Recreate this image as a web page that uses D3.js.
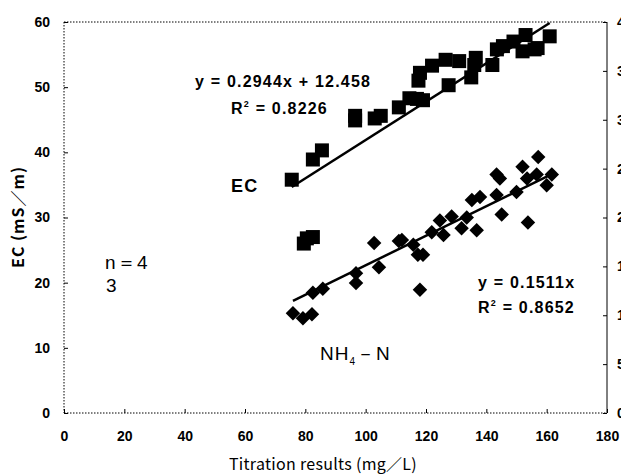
<!DOCTYPE html>
<html>
<head>
<meta charset="utf-8">
<script src="https://cdn.jsdelivr.net/npm/d3@7"></script>
<style>
	body { margin: 0; background: #fff; }
	.tick text { font-family: "Liberation Sans", Arial, sans-serif; font-weight: bold; font-size: 14px; fill: #000; }
	.lbl { font-family: "Noto Sans CJK JP", "Liberation Sans", sans-serif; fill: #000; }
</style>
</head>
<body>
<div id="chart"></div>
<script>
// EC (left axis, mS/m) vs titration result (mg/L)
let ecX = [75.5, 82.5, 85.5, 79.5, 80.5, 82.5, 96.5, 96.5, 103, 105, 111, 114.5, 117, 119, 117.5, 118,
	122, 126.5, 127.5, 131, 135, 136.5, 136, 142, 143.5, 145.5, 149, 152, 153, 156, 157, 161];
let ecY = [35.8, 38.9, 40.3, 26.0, 26.8, 27.0, 45.6, 44.9, 45.2, 45.6, 46.9, 48.3, 48.2, 48.0, 51.0, 52.2,
	53.3, 54.2, 50.3, 54.0, 51.5, 54.5, 53.4, 53.4, 55.8, 56.3, 57.0, 55.5, 58.0, 55.8, 56.0, 57.8];

// NH4-N (right axis) vs titration result
let nhX = [75.9, 79.2, 82.2, 82.5, 85.8, 96.8, 96.8, 102.8, 104.4, 111, 112, 115.8, 117.3, 119, 118,
	121.9, 124.6, 125.8, 128.5, 131.8, 133.5, 136.8, 135.2, 137.9, 143.4, 143.4, 144.5, 145.1, 150, 152,
	153.8, 153.5, 156.7, 157.2, 161.7, 160];
let nhY = [10.2, 9.7, 10.1, 12.3, 12.7, 14.3, 13.3, 17.4, 14.9, 17.6, 17.7, 17.2, 16.2, 16.2, 12.6,
	18.5, 19.7, 18.2, 20.1, 18.9, 20.0, 18.7, 21.8, 22.1, 22.3, 24.4, 24.0, 20.3, 22.6, 25.2,
	19.5, 24.0, 24.4, 26.2, 24.4, 23.3];

let xTicks = [0, 20, 40, 60, 80, 100, 120, 140, 160, 180];
let yLeftTicks = [0, 10, 20, 30, 40, 50, 60];
let yRightTicks = [0, 5, 10, 15, 20, 25, 30, 35, 40];

// fitted lines
let ecFit = {slope: 0.2944, icept: 12.458, r2: "0.8226"};
let nhFit = {slope: 0.1511, icept: 0, r2: "0.8652"};

class DualScatter {
	constructor() {
		this.margin = {top: 22, right: 14, bottom: 61, left: 64};
		this.width = 621 - this.margin.left - this.margin.right;
		this.height = 474 - this.margin.top - this.margin.bottom;
		this.initVis();
	}

	initVis() {
		let vis = this;
		vis.svg = d3.select("#chart").append("svg")
			.attr("width", 621)
			.attr("height", 474)
			.append("g")
			.attr("transform", "translate(" + vis.margin.left + "," + vis.margin.top + ")");

		vis.x = d3.scaleLinear().domain([0, 180]).range([0, vis.width]);
		vis.yL = d3.scaleLinear().domain([0, 60]).range([vis.height, 0]);
		vis.yR = d3.scaleLinear().domain([0, 40]).range([vis.height, 0]);

		// frame: dotted top/left/bottom, solid right
		vis.svg.append("line").attr("x1", 0).attr("x2", vis.width).attr("y1", 0).attr("y2", 0)
			.attr("stroke", "#000").attr("stroke-dasharray", "1.5,1.5");

		let xAxis = vis.svg.append("g")
			.attr("transform", "translate(0," + vis.height + ")")
			.call(d3.axisBottom(vis.x).tickValues(xTicks).tickSize(-4).tickPadding(18));
		let yAxisL = vis.svg.append("g")
			.call(d3.axisLeft(vis.yL).tickValues(yLeftTicks).tickSize(-4).tickPadding(14));
		let yAxisR = vis.svg.append("g")
			.attr("transform", "translate(" + vis.width + ",0)")
			.call(d3.axisRight(vis.yR).tickValues(yRightTicks).tickSize(-4).tickPadding(10));

		xAxis.select(".domain").attr("stroke-dasharray", "1.5,1.5");
		yAxisL.select(".domain").attr("stroke-dasharray", "1.5,1.5");
		[xAxis, yAxisL, yAxisR].forEach(function(a) {
			a.select(".domain").attr("d", a === xAxis ? "M0,0H" + vis.width : "M0,0V" + vis.height);
		});

		vis.svg.append("text").attr("class", "lbl")
			.attr("transform", "translate(" + (18 - vis.margin.left) + "," + (217 - vis.margin.top) + ") rotate(-90)")
			.attr("text-anchor", "middle").attr("dy", "0.35em")
			.style("font-size", "16px").style("font-weight", "bold").style("letter-spacing", "1px")
			.text("EC (mS／m)");

		vis.svg.append("text").attr("class", "lbl")
			.attr("x", 323 - vis.margin.left).attr("y", 470 - vis.margin.top)
			.attr("text-anchor", "middle")
			.style("font-size", "16px").style("letter-spacing", "0.3px")
			.text("Titration results (mg／L)");

		vis.renderVis();
	}

	renderVis() {
		let vis = this;
		let ec = ecX.map(function(d, i) { return {x: d, y: ecY[i]}; });
		let nh = nhX.map(function(d, i) { return {x: d, y: nhY[i]}; });

		// trend lines
		let ecExt = d3.extent(ecX);
		vis.svg.append("line")
			.attr("x1", vis.x(ecExt[0])).attr("y1", vis.yL(ecFit.slope * ecExt[0] + ecFit.icept))
			.attr("x2", vis.x(ecExt[1])).attr("y2", vis.yL(ecFit.slope * ecExt[1] + ecFit.icept))
			.attr("stroke", "#000").attr("stroke-width", 2.5);
		let nhExt = d3.extent(nhX);
		vis.svg.append("line")
			.attr("x1", vis.x(nhExt[0])).attr("y1", vis.yR(nhFit.slope * nhExt[0]))
			.attr("x2", vis.x(nhExt[1])).attr("y2", vis.yR(nhFit.slope * nhExt[1]))
			.attr("stroke", "#000").attr("stroke-width", 2.5);

		vis.svg.selectAll(".sq")
			.data(ec).enter().append("rect")
			.attr("class", "sq")
			.attr("x", function(d) { return vis.x(d.x) - 7; })
			.attr("y", function(d) { return vis.yL(d.y) - 7; })
			.attr("width", 14).attr("height", 14)
			.attr("fill", "#000");

		let diamond = d3.symbol().type(d3.symbolSquare).size(105);
		vis.svg.selectAll(".dm")
			.data(nh).enter().append("path")
			.attr("class", "dm")
			.attr("d", diamond)
			.attr("transform", function(d) { return "translate(" + vis.x(d.x) + "," + vis.yR(d.y) + ") rotate(45)"; })
			.attr("fill", "#000");

		// annotations
		let ann = vis.svg.append("g").attr("transform", "translate(" + (-vis.margin.left) + "," + (-vis.margin.top) + ")")
			.style("font-family", "'Liberation Sans', Arial, sans-serif").style("font-weight", "bold")
			.style("font-size", "16px").style("letter-spacing", "1.2px");
		ann.append("text").attr("x", 195).attr("y", 87).text("y = " + ecFit.slope + "x + " + ecFit.icept);
		let r1 = ann.append("text").attr("x", 231).attr("y", 114);
		r1.append("tspan").text("R");
		r1.append("tspan").attr("dy", -7).style("font-size", "9px").text("2");
		r1.append("tspan").attr("dy", 7).text(" = " + ecFit.r2);
		ann.append("text").attr("x", 478).attr("y", 288).text("y = " + nhFit.slope + "x");
		let r2 = ann.append("text").attr("x", 478).attr("y", 313);
		r2.append("tspan").text("R");
		r2.append("tspan").attr("dy", -7).style("font-size", "9px").text("2");
		r2.append("tspan").attr("dy", 7).text(" = " + nhFit.r2);

		ann.append("text").attr("x", 231).attr("y", 192).style("font-size", "18px").text("EC");
		let nl = ann.append("text").attr("x", 320).attr("y", 360).style("font-size", "19px").style("font-weight", "normal")
			.style("letter-spacing", "1px").style("font-family", "'Liberation Sans', sans-serif");
		nl.append("tspan").text("NH");
		nl.append("tspan").attr("dy", 5).style("font-size", "10px").text("4");
		nl.append("tspan").attr("dy", -5).text("－N");
		ann.append("text").attr("x", 105).attr("y", 269).style("font-size", "19px").style("font-weight", "normal")
			.style("font-family", "'Liberation Sans', sans-serif").text("n＝4");
		ann.append("text").attr("x", 106).attr("y", 292).style("font-size", "19px").style("font-weight", "normal")
			.style("font-family", "'Liberation Sans', sans-serif").text("3");
	}
}

let chart = new DualScatter();
</script>
</body>
</html>
